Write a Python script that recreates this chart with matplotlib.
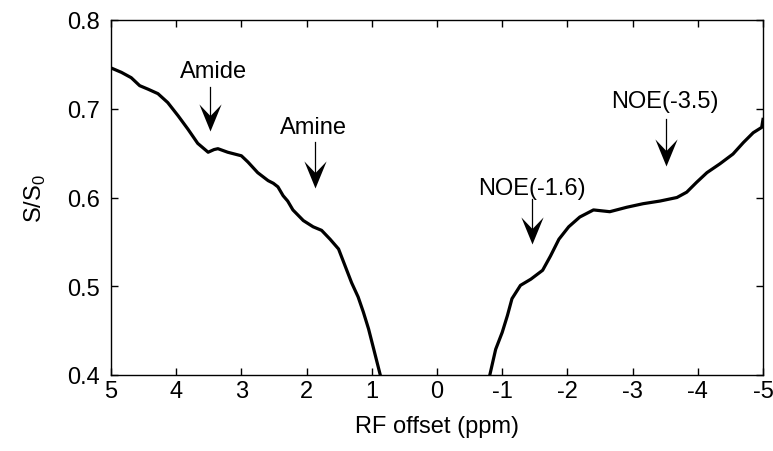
import matplotlib
matplotlib.use("Agg")
import matplotlib.pyplot as plt
from matplotlib.path import Path

# ---- data -------------------------------------------------------------
ppm_pos = [5.00, 4.84, 4.69, 4.56, 4.43, 4.28, 4.13, 3.97, 3.82, 3.67, 3.51,
           3.42, 3.36, 3.21, 3.00, 2.90, 2.75, 2.59, 2.51, 2.44, 2.36, 2.29,
           2.21, 2.05, 1.90, 1.77, 1.64, 1.51, 1.41, 1.31, 1.21, 1.13, 1.05,
           0.97, 0.87]
sig_pos = [0.746, 0.741, 0.735, 0.726, 0.722, 0.717, 0.707, 0.692, 0.677, 0.661, 0.651,
           0.654, 0.655, 0.651, 0.647, 0.640, 0.628, 0.619, 0.616, 0.612, 0.602, 0.596,
           0.586, 0.574, 0.567, 0.563, 0.553, 0.542, 0.523, 0.504, 0.488, 0.471, 0.452,
           0.429, 0.400]

ppm_neg = [-0.81, -0.90, -1.00, -1.08, -1.15, -1.28, -1.44, -1.62, -1.74, -1.87,
           -2.02, -2.19, -2.40, -2.65, -2.91, -3.16, -3.42, -3.68, -3.83, -3.98,
           -4.14, -4.34, -4.54, -4.70, -4.85, -4.98, -5.00]
sig_neg = [0.400, 0.429, 0.448, 0.467, 0.486, 0.501, 0.508, 0.518, 0.534, 0.553,
           0.567, 0.578, 0.586, 0.584, 0.589, 0.593, 0.596, 0.600, 0.606, 0.617,
           0.628, 0.638, 0.649, 0.662, 0.673, 0.679, 0.688]

labels = ["Amide", "Amine", "NOE(-1.6)", "NOE(-3.5)"]
label_x = [3.43, 1.90, -1.46, -3.50]
label_y = [0.742, 0.679, 0.611, 0.709]
arrow_x = [3.48, 1.87, -1.45, -3.51]
arrow_top = [0.725, 0.662, 0.598, 0.688]
arrow_tip = [0.675, 0.611, 0.548, 0.636]

xticks = [5, 4, 3, 2, 1, 0, -1, -2, -3, -4, -5]
xticklabels = ["5", "4", "3", "2", "1", "0", "-1", "-2", "-3", "-4", "-5"]
yticks = [0.4, 0.5, 0.6, 0.7, 0.8]
yticklabels = ["0.4", "0.5", "0.6", "0.7", "0.8"]

# ---- figure -------------------------------------------------------------
plt.rcParams['font.family'] = ['Liberation Sans', 'DejaVu Sans']
FS = 17

fig = plt.figure(figsize=(7.73, 4.52), dpi=100)
ax = fig.add_axes([111/773, 1-376/452, 652/773, 355/452])

ax.plot(ppm_pos, sig_pos, color='black', lw=2.3, solid_joinstyle='round')
ax.plot(ppm_neg, sig_neg, color='black', lw=2.3, solid_joinstyle='round')

# notched arrow head marker (tip at origin, pointing down)
head = Path([(0, 0), (-0.41, 1.0), (0, 0.57), (0.41, 1.0), (0, 0)],
            [Path.MOVETO, Path.LINETO, Path.LINETO, Path.LINETO, Path.CLOSEPOLY])
for lab, lx, ly, axx, at, tip in zip(labels, label_x, label_y, arrow_x, arrow_top, arrow_tip):
    ax.text(lx, ly, lab, ha='center', va='center', fontsize=FS)
    ax.plot([axx, axx], [at, tip + 0.01], color='black', lw=0.9)
    ax.plot([axx], [tip], marker=head, markersize=39, color='black',
            markeredgewidth=0, linestyle='none')

ax.set_xlim(5, -5)
ax.set_ylim(0.4, 0.8)
ax.set_xticks(xticks)
ax.set_xticklabels(xticklabels)
ax.set_yticks(yticks)
ax.set_yticklabels(yticklabels)
ax.tick_params(axis='both', direction='in', length=5, width=1.0,
               top=True, right=True, labelsize=FS)
ax.tick_params(axis='y', pad=8)
ax.tick_params(axis='x', pad=3.5)
for s in ax.spines.values():
    s.set_linewidth(1.0)

ax.set_xlabel("RF offset (ppm)", fontsize=FS)
ax.set_ylabel(r"S/S$_{\mathregular{0}}$", fontsize=FS)
ax.xaxis.set_label_coords(0.5, -0.112)
ax.yaxis.set_label_coords(-0.097, 0.5)

fig.savefig("out.png", dpi=100)
